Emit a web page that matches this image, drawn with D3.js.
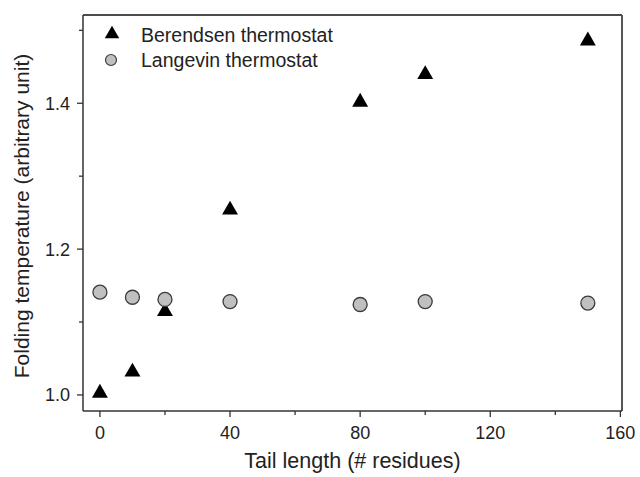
<!doctype html>
<html lang="en-US">
<head>
<meta charset="UTF-8">
<title>Folding temperature</title>
<script src="https://cdn.jsdelivr.net/npm/d3@7"></script>
<style>
  body { margin: 0; background: #fff; }
  text { font-family: "Liberation Sans", Arial, sans-serif; fill: #222; }
</style>
</head>
<body>
<div id="chart"></div>
<script>
// values
var tailLength = [0, 10, 20, 40, 80, 100, 150];
var berendsen  = [1.004, 1.033, 1.116, 1.255, 1.403, 1.441, 1.487];
var langevin   = [1.141, 1.134, 1.131, 1.128, 1.124, 1.128, 1.126];
var xTicks = [0, 40, 80, 120, 160], xMinor = [20, 60, 100, 140];
var yTicks = [1.0, 1.2, 1.4], yMinor = [1.1, 1.3, 1.5];
var seriesNames = ["Berendsen thermostat", "Langevin thermostat"];

var W = 640, H = 477;
var pL = 83, pR = 622, pT = 15, pB = 411;

var svg = d3.select("#chart").append("svg").attr("width", W).attr("height", H);

var x = d3.scaleLinear().domain([-5.2, 160.5]).range([pL, pR]);
var y = d3.scaleLinear().domain([0.978, 1.521]).range([pB, pT]);

// frame
svg.append("line").attr("x1", pL).attr("x2", pR).attr("y1", pT).attr("y2", pT)
  .attr("stroke", "#111").attr("stroke-width", 1.5);
svg.append("line").attr("x1", pR).attr("x2", pR).attr("y1", pT).attr("y2", pB)
  .attr("stroke", "#555").attr("stroke-width", 2);

// bottom axis
var gx = svg.append("g").attr("transform", "translate(0," + pB + ")");
gx.append("line").attr("x1", pL).attr("x2", pR).attr("stroke", "#333").attr("stroke-width", 1.5);
gx.selectAll(".major").data(xTicks).enter().append("line")
  .attr("x1", x).attr("x2", x).attr("y1", 0).attr("y2", 6)
  .attr("stroke", "#333").attr("stroke-width", 1.3);
gx.selectAll(".minor").data(xMinor).enter().append("line")
  .attr("x1", x).attr("x2", x).attr("y1", 0).attr("y2", 4)
  .attr("stroke", "#333").attr("stroke-width", 1.3);
gx.selectAll("text").data(xTicks).enter().append("text")
  .attr("x", x).attr("y", 28).attr("text-anchor", "middle")
  .attr("font-size", 18).text(function(d) { return d; });

// left axis
var gy = svg.append("g").attr("transform", "translate(" + pL + ",0)");
gy.append("line").attr("y1", pT).attr("y2", pB).attr("stroke", "#333").attr("stroke-width", 1.5);
gy.selectAll(".major").data(yTicks).enter().append("line")
  .attr("y1", y).attr("y2", y).attr("x1", 0).attr("x2", -6)
  .attr("stroke", "#333").attr("stroke-width", 1.3);
gy.selectAll(".minor").data(yMinor).enter().append("line")
  .attr("y1", y).attr("y2", y).attr("x1", 0).attr("x2", -4)
  .attr("stroke", "#333").attr("stroke-width", 1.3);
gy.selectAll("text").data(yTicks).enter().append("text")
  .attr("x", -13).attr("y", function(d) { return y(d) + 6.5; }).attr("text-anchor", "end")
  .attr("font-size", 18).text(function(d) { return d.toFixed(1); });

// axis titles
svg.append("text").attr("x", (pL + pR) / 2).attr("y", 468).attr("text-anchor", "middle")
  .attr("font-size", 21.5).text("Tail length (# residues)");
svg.append("text").attr("transform", "translate(29," + ((pT + pB) / 2 + 3) + ") rotate(-90)")
  .attr("text-anchor", "middle").attr("font-size", 21)
  .text("Folding temperature (arbitrary unit)");

var tri = d3.symbol().type(d3.symbolTriangle).size(110);

// Berendsen (triangles) -- drawn first, circles overlap them at x=20
svg.selectAll(".ber").data(tailLength).enter().append("path")
  .attr("d", tri)
  .attr("transform", function(d, i) { return "translate(" + x(d) + "," + (y(berendsen[i]) + 1) + ")"; })
  .attr("fill", "#000");

// Langevin (circles)
svg.selectAll(".lang").data(tailLength).enter().append("circle")
  .attr("cx", x).attr("cy", function(d, i) { return y(langevin[i]); })
  .attr("r", 7).attr("fill", "#c0c0c0").attr("stroke", "#3a3a3a").attr("stroke-width", 1.3);

// legend
svg.append("path").attr("d", d3.symbol().type(d3.symbolTriangle).size(90))
  .attr("transform", "translate(112,34)").attr("fill", "#000");
svg.append("circle").attr("cx", 111).attr("cy", 60).attr("r", 5.5)
  .attr("fill", "#c0c0c0").attr("stroke", "#3a3a3a").attr("stroke-width", 1.2);
svg.selectAll(".leg").data(seriesNames).enter().append("text")
  .attr("x", 141).attr("y", function(d, i) { return 42 + i * 25; })
  .attr("font-size", 19.5).text(function(d) { return d; });
</script>
</body>
</html>
